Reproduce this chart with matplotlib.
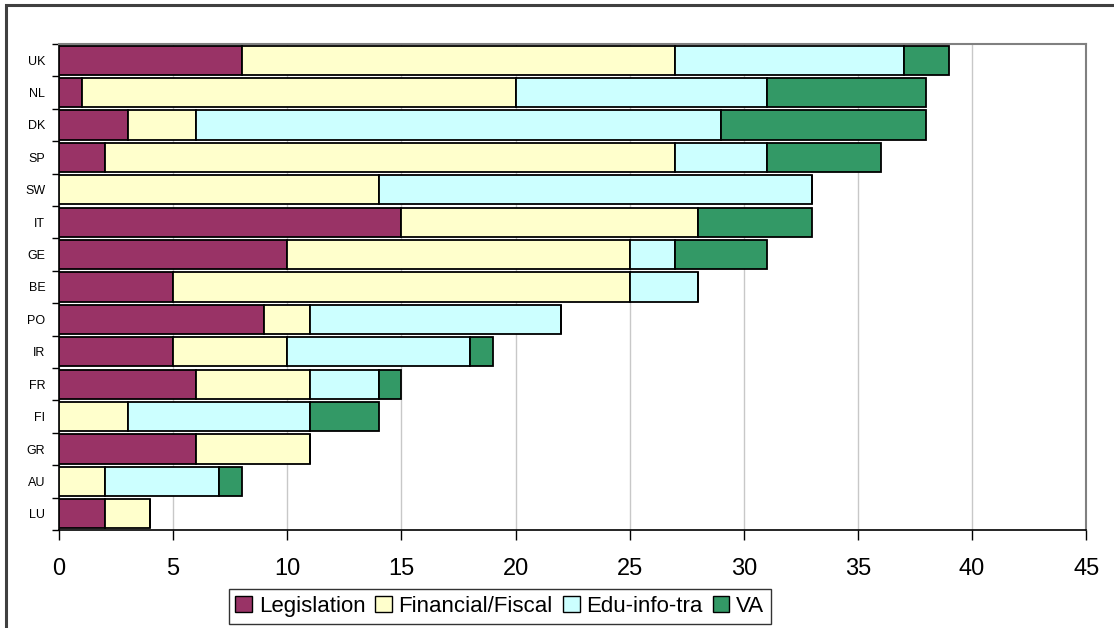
import numpy as np
import matplotlib
matplotlib.use("Agg")
import matplotlib.pyplot as plt
from matplotlib.patches import Rectangle

plt.rcParams['font.family'] = ['Liberation Sans', 'DejaVu Sans']

# countries, bottom to top
countries = ["LU", "AU", "GR", "FI", "FR", "IR", "PO", "BE", "GE", "IT",
             "SW", "SP", "DK", "NL", "UK"]
legislation = [2, 0, 6, 0, 6, 5, 9, 5, 10, 15, 0, 2, 3, 1, 8]
financial = [2, 2, 5, 3, 5, 5, 2, 20, 15, 13, 14, 25, 3, 19, 19]
edu_info = [0, 5, 0, 8, 3, 8, 11, 3, 2, 0, 19, 4, 23, 11, 10]
va = [0, 1, 0, 3, 1, 1, 0, 0, 4, 5, 0, 5, 9, 7, 2]

series = [("Legislation", legislation, "#993366"),
          ("Financial/Fiscal", financial, "#FFFFCC"),
          ("Edu-info-tra", edu_info, "#CCFFFF"),
          ("VA", va, "#339966")]

fig = plt.figure(figsize=(11.14, 6.28), dpi=100)
ax = fig.add_axes([0.053, 0.156, 0.922, 0.774])

y = np.arange(len(countries))
left = np.zeros(len(countries))
for name, vals, col in series:
    vals = np.array(vals, dtype=float)
    ax.barh(y, vals, left=left, height=0.9, color=col, edgecolor="black",
            linewidth=1.3, label=name, zorder=3)
    left += vals

ax.set_xlim(0, 45)
ax.set_ylim(-0.5, len(countries) - 0.5)
ax.set_xticks(np.arange(0, 46, 5))
ax.tick_params(axis="x", labelsize=17, length=7, width=1, pad=13, direction="out")
ax.set_yticks(y)
ax.set_yticklabels(countries, fontsize=9)
ax.set_yticks(np.arange(-0.5, len(countries), 1), minor=True)
ax.tick_params(axis="y", which="major", length=0, pad=10)
ax.tick_params(axis="y", which="minor", length=5, width=1)
ax.xaxis.grid(True, color="#c8c8c8", linewidth=1, zorder=0)
ax.set_axisbelow(True)

for side in ("top", "right"):
    ax.spines[side].set_color("#808080")
    ax.spines[side].set_linewidth(1.5)
for side in ("left", "bottom"):
    ax.spines[side].set_color("black")
    ax.spines[side].set_linewidth(1.2)

leg = ax.legend(loc="center", bbox_to_anchor=(0.429, -0.157), ncol=4,
                fontsize=16, frameon=True, fancybox=False, borderpad=0.3,
                handlelength=0.75, handleheight=0.75, handletextpad=0.3,
                columnspacing=0.45, borderaxespad=0)
leg.get_frame().set_edgecolor("black")
leg.get_frame().set_linewidth(1)
for h in leg.legend_handles:
    h.set_linewidth(1)

# chart area border
fig.patches.append(Rectangle((0.0054, -0.05), 1.2, 1.042, transform=fig.transFigure,
                             fill=False, edgecolor="#404040", linewidth=2.2))

fig.savefig("out.png", dpi=100)
